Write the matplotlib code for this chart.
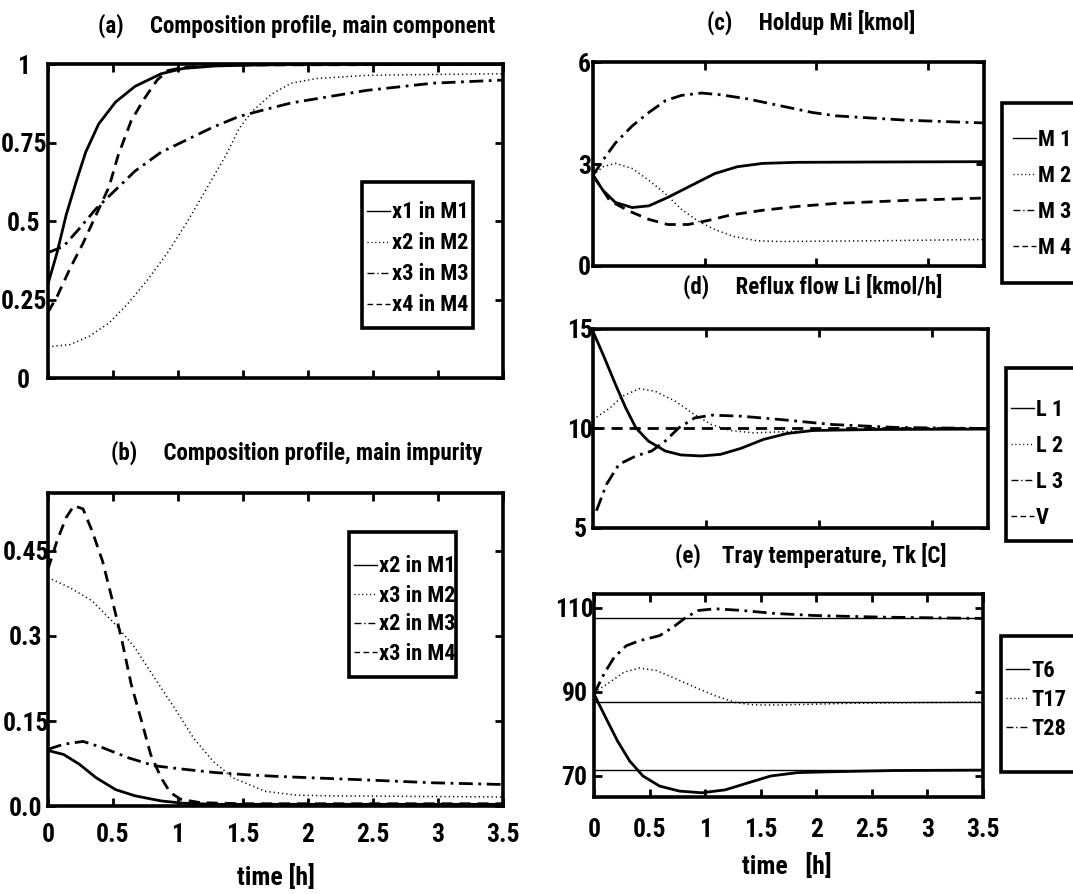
import matplotlib
matplotlib.use('Agg')
import matplotlib.pyplot as plt
from matplotlib import font_manager
from matplotlib.lines import Line2D
from matplotlib.patches import Rectangle

# ---- (a) composition profile, main component ----
t_a1 = [0, 0.07, 0.14, 0.22, 0.29, 0.39, 0.52, 0.67, 0.87, 1.04, 1.29, 1.6, 2.0, 3.5]
x1_m1 = [0.30, 0.40, 0.52, 0.63, 0.72, 0.81, 0.88, 0.93, 0.97, 0.987, 0.995, 0.998, 1.0, 1.0]
t_a2 = [0, 0.17, 0.32, 0.47, 0.62, 0.77, 0.92, 1.07, 1.22, 1.37, 1.47, 1.57, 1.72, 1.87, 2.07, 2.45, 3.0, 3.5]
x2_m2 = [0.10, 0.107, 0.134, 0.176, 0.24, 0.315, 0.40, 0.497, 0.604, 0.711, 0.795, 0.85, 0.905, 0.94, 0.955, 0.965, 0.968, 0.97]
t_a3 = [0, 0.12, 0.24, 0.37, 0.52, 0.67, 0.87, 1.07, 1.27, 1.47, 1.67, 1.87, 2.45, 2.96, 3.5]
x3_m3 = [0.40, 0.42, 0.476, 0.54, 0.60, 0.66, 0.72, 0.76, 0.80, 0.834, 0.856, 0.877, 0.917, 0.94, 0.95]
t_a4 = [0, 0.07, 0.17, 0.27, 0.37, 0.47, 0.54, 0.64, 0.74, 0.84, 0.92, 1.04, 1.3, 3.5]
x4_m4 = [0.21, 0.26, 0.35, 0.43, 0.52, 0.61, 0.71, 0.82, 0.89, 0.95, 0.98, 0.99, 0.998, 1.0]

# ---- (b) composition profile, main impurity ----
t_b1 = [0, 0.12, 0.24, 0.37, 0.52, 0.67, 0.87, 1.04, 1.3, 3.5]
x2_m1 = [0.098, 0.091, 0.074, 0.05, 0.029, 0.018, 0.009, 0.005, 0.003, 0.003]
t_b2 = [0, 0.17, 0.34, 0.52, 0.67, 0.82, 0.97, 1.12, 1.27, 1.42, 1.67, 1.92, 2.17, 3.5]
x3_m2 = [0.403, 0.385, 0.362, 0.32, 0.279, 0.226, 0.174, 0.12, 0.079, 0.05, 0.026, 0.019, 0.018, 0.016]
t_b3 = [0, 0.12, 0.27, 0.42, 0.62, 0.82, 1.04, 1.29, 1.54, 1.79, 2.12, 2.45, 2.96, 3.5]
x2_m3 = [0.10, 0.109, 0.114, 0.103, 0.085, 0.071, 0.065, 0.059, 0.055, 0.052, 0.049, 0.046, 0.041, 0.038]
t_b4 = [0, 0.07, 0.14, 0.2, 0.27, 0.34, 0.42, 0.49, 0.57, 0.64, 0.72, 0.79, 0.87, 0.94, 1.02, 1.17, 1.5, 3.5]
x3_m4 = [0.418, 0.468, 0.509, 0.53, 0.524, 0.485, 0.432, 0.368, 0.291, 0.215, 0.15, 0.091, 0.05, 0.024, 0.012, 0.006, 0.004, 0.004]

# ---- (c) holdup Mi [kmol] ----
t_c1 = [0, 0.09, 0.2, 0.35, 0.5, 0.67, 0.88, 1.09, 1.29, 1.52, 1.82, 2.5, 3.5]
hold_m1 = [2.67, 2.22, 1.87, 1.72, 1.77, 2.02, 2.37, 2.72, 2.92, 3.02, 3.05, 3.06, 3.07]
t_c2 = [0, 0.09, 0.2, 0.35, 0.5, 0.65, 0.79, 0.94, 1.09, 1.26, 1.47, 1.67, 2.5, 3.5]
hold_m2 = [2.67, 2.92, 3.02, 2.87, 2.52, 2.12, 1.67, 1.32, 1.07, 0.87, 0.74, 0.72, 0.74, 0.78]
t_c3 = [0, 0.09, 0.2, 0.35, 0.5, 0.65, 0.79, 0.97, 1.14, 1.38, 1.67, 1.96, 2.17, 2.81, 3.5]
hold_m3 = [2.67, 3.12, 3.62, 4.12, 4.52, 4.87, 5.02, 5.09, 5.04, 4.92, 4.72, 4.52, 4.42, 4.29, 4.21]
t_c4 = [0, 0.15, 0.32, 0.5, 0.67, 0.85, 1.03, 1.23, 1.52, 1.82, 2.17, 2.8, 3.5]
hold_m4 = [2.67, 1.92, 1.62, 1.37, 1.22, 1.22, 1.34, 1.5, 1.64, 1.75, 1.84, 1.93, 2.0]

# ---- (d) reflux flow Li [kmol/h] ----
t_d1 = [0, 0.09, 0.2, 0.29, 0.38, 0.49, 0.64, 0.78, 0.96, 1.13, 1.31, 1.51, 1.72, 1.95, 2.5, 3.5]
flow_l1 = [14.87, 13.7, 12.2, 11.03, 10.03, 9.37, 8.87, 8.67, 8.62, 8.7, 9.0, 9.45, 9.75, 9.9, 9.95, 9.97]
t_d2 = [0, 0.15, 0.26, 0.41, 0.55, 0.73, 0.9, 1.05, 1.22, 1.42, 1.66, 2.2, 3.5]
flow_l2 = [10.45, 11.03, 11.62, 12.0, 11.87, 11.37, 10.7, 10.2, 9.9, 9.78, 9.83, 9.95, 10.0]
t_d3 = [0.03, 0.12, 0.23, 0.38, 0.52, 0.64, 0.76, 0.9, 1.05, 1.31, 1.66, 2.12, 2.7, 3.5]
flow_l3 = [5.87, 7.2, 8.2, 8.62, 8.87, 9.37, 10.03, 10.53, 10.67, 10.62, 10.45, 10.2, 10.05, 10.0]
t_d4 = [0, 3.5]
flow_v = [10.0, 10.0]

# ---- (e) tray temperature Tk [C] ----
t_e1 = [0, 0.09, 0.21, 0.32, 0.44, 0.59, 0.77, 0.97, 1.18, 1.39, 1.59, 1.83, 2.12, 2.7, 3.5]
temp_t6 = [89.5, 84.7, 78.4, 73.6, 70.0, 67.6, 66.4, 66.0, 66.7, 68.4, 70.0, 70.8, 71.0, 71.3, 71.4]
t_e2 = [0, 0.12, 0.27, 0.41, 0.56, 0.74, 0.91, 1.09, 1.27, 1.45, 1.68, 2.3, 3.5]
temp_t17 = [89.9, 91.9, 94.7, 95.7, 95.1, 93.1, 91.1, 89.1, 87.5, 86.9, 86.9, 87.3, 87.6]
t_e3 = [0, 0.09, 0.18, 0.29, 0.41, 0.59, 0.71, 0.83, 0.94, 1.09, 1.33, 1.62, 1.98, 2.6, 3.5]
temp_t28 = [89.5, 94.3, 98.2, 101.0, 102.2, 103.4, 105.4, 107.8, 109.4, 109.8, 109.4, 108.7, 108.2, 107.8, 107.5]
temp_ref = [107.5, 87.6, 71.5]


# a narrow bold face like the original if one is installed, else plain Liberation Sans
def pick_font(names):
    for n in names:
        try:
            font_manager.findfont(font_manager.FontProperties(family=n, weight='bold'),
                                  fallback_to_default=False)
            return n
        except ValueError:
            pass
    return 'Liberation Sans'


FONT = pick_font(['Liberation Sans Narrow', 'Roboto Condensed', 'Noto Sans Condensed',
                  'DejaVu Sans Condensed'])
plt.rcParams['font.family'] = [FONT, 'DejaVu Sans']
plt.rcParams['font.weight'] = 'bold'

W, H = 1073, 894
fig = plt.figure(figsize=(W / 100, H / 100), dpi=100)
renderer = fig.canvas.get_renderer()


def text_box(s, size):
    t = fig.text(0, 0, s, fontsize=size)
    bb = t.get_window_extent(renderer)
    t.remove()
    return bb.width, bb.height


# size the fonts from text widths in the picture (the original glyphs are taller,
# so titles and tick labels get a bit extra)
FS = 10 * 77 / text_box('x1 in M1', 10)[0]
FS_TITLE = 1.06 * 10 * 326 / text_box('Composition profile, main component', 10)[0]
FS_TICK = 1.15 * FS
FS_PX = FS * 100 / 72
ROW_H = text_box('x1 in M1', FS)[1]
plt.rcParams['font.size'] = FS

DASH = (0, (4, 2.5))
DOT = (0, (0.8, 2))
DASHDOT = (0, (5, 2, 1, 2))
styles = [('-', 2.0), (DOT, 1.1), (DASHDOT, 2.0), (DASH, 2.0)]


def fx(px):
    return px / W


def fy(py):
    return 1 - py / H


def setup(ax, ylim, yticks, ylabels, xticks, xlabels, ypad, xpad=10):
    ax.set_xlim(0, 3.5)
    ax.set_ylim(*ylim)
    ax.set_xticks(xticks)
    ax.set_yticks(yticks)
    ax.set_yticklabels(ylabels)
    if xlabels:
        ax.set_xticklabels([('%g' % v) for v in xticks])
    else:
        ax.set_xticklabels([])
    for s in ax.spines.values():
        s.set_linewidth(2.6)
    ax.tick_params(direction='in', length=6, width=2, top=True, right=True, labelsize=FS_TICK)
    ax.tick_params(axis='y', pad=ypad)
    ax.tick_params(axis='x', pad=xpad)
    for lab in ax.get_yticklabels():
        lab.set_ha('center')


def add_legend(labels, box, handle_x, rows_y, pitch, sty):
    # box: left, top, right, bottom in picture pixels
    x0, y0, x1, y1 = box
    fig.add_artist(Rectangle((fx(x0), fy(y1)), fx(x1) - fx(x0), fy(y0) - fy(y1),
                             transform=fig.transFigure, facecolor='white',
                             edgecolor='k', lw=2.6, zorder=4))
    handles = [Line2D([], [], color='k', linestyle=ls, lw=1.0) for ls, _ in sty]
    fig.legend(handles, labels, loc='center left', bbox_to_anchor=(fx(handle_x), fy(rows_y)),
               bbox_transform=fig.transFigure, frameon=False,
               handlelength=23 / FS_PX, handletextpad=2 / FS_PX,
               labelspacing=(pitch - ROW_H) / FS_PX, borderpad=0, borderaxespad=0,
               fontsize=FS)


half = [0, 0.5, 1, 1.5, 2, 2.5, 3, 3.5]

# (a)
ax_a = fig.add_axes([0.0447, 0.577, 0.424, 0.351])
for (tt, vv), (ls, lw) in zip([(t_a1, x1_m1), (t_a2, x2_m2), (t_a3, x3_m3), (t_a4, x4_m4)], styles):
    ax_a.plot(tt, vv, color='k', linestyle=ls, lw=lw)
setup(ax_a, (0, 1), [0, 0.25, 0.5, 0.75, 1], ['0', '0.25', '0.5', '0.75', '1'],
      half, False, 17.5)
add_legend(['x1 in M1', 'x2 in M2', 'x3 in M3', 'x4 in M4'],
           (362, 182, 473, 328), 367, 259, 31, styles)

# (b)
ax_b = fig.add_axes([0.0447, 0.0984, 0.424, 0.350])
for (tt, vv), (ls, lw) in zip([(t_b1, x2_m1), (t_b2, x3_m2), (t_b3, x2_m3), (t_b4, x3_m4)], styles):
    ax_b.plot(tt, vv, color='k', linestyle=ls, lw=lw)
setup(ax_b, (0, 0.552), [0, 0.15, 0.3, 0.45], ['0.0', '0.15', '0.3', '0.45'],
      half, True, 16, 12.5)
add_legend(['x2 in M1', 'x3 in M2', 'x2 in M3', 'x3 in M4'],
           (349, 532, 456, 677), 354, 610, 29, styles)

# (c)
ax_c = fig.add_axes([0.5527, 0.7025, 0.3644, 0.228])
for (tt, vv), (ls, lw) in zip([(t_c1, hold_m1), (t_c2, hold_m2), (t_c3, hold_m3), (t_c4, hold_m4)], styles):
    ax_c.plot(tt, vv, color='k', linestyle=ls, lw=lw)
setup(ax_c, (0, 6), [0, 3, 6], ['0', '3', '6'], [1, 2, 3], False, 6)
add_legend(['M 1', 'M 2', 'M 3', 'M 4'], (1002, 103, 1090, 283), 1013, 194, 36, styles)

# (d)
ax_d = fig.add_axes([0.5527, 0.4094, 0.368, 0.2226])
for (tt, vv), (ls, lw) in zip([(t_d1, flow_l1), (t_d2, flow_l2), (t_d3, flow_l3), (t_d4, flow_v)], styles):
    ax_d.plot(tt, vv, color='k', linestyle=ls, lw=lw)
setup(ax_d, (5, 15), [5, 10, 15], ['5', '10', '15'], [1, 2, 3], False, 9.5)
add_legend(['L 1', 'L 2', 'L 3', 'V'], (1006, 368, 1090, 541), 1011, 464, 36, styles)

# (e)
ax_e = fig.add_axes([0.5536, 0.1085, 0.3625, 0.227])
for r in temp_ref:
    ax_e.axhline(r, color='k', lw=1.0)
for (tt, vv), (ls, lw) in zip([(t_e1, temp_t6), (t_e2, temp_t17), (t_e3, temp_t28)], styles[:3]):
    ax_e.plot(tt, vv, color='k', linestyle=ls, lw=lw)
setup(ax_e, (65, 113.3), [70, 90, 110], ['70', '90', '110'], half, True, 14, 15)
add_legend(['T6', 'T17', 'T28'], (1001, 636, 1090, 772), 1006, 700, 29, styles[:3])

# titles and axis labels
fig.text(fx(297), fy(26), '(a)     Composition profile, main component', ha='center', va='center', fontsize=FS_TITLE)
fig.text(fx(297), fy(453), '(b)     Composition profile, main impurity', ha='center', va='center', fontsize=FS_TITLE)
fig.text(fx(811), fy(22), '(c)     Holdup Mi [kmol]', ha='center', va='center', fontsize=FS_TITLE)
fig.text(fx(813), fy(286), '(d)     Reflux flow Li [kmol/h]', ha='center', va='center', fontsize=FS_TITLE)
fig.text(fx(811), fy(555), '(e)    Tray temperature, Tk [C]', ha='center', va='center', fontsize=FS_TITLE)
fig.text(fx(276), fy(877), 'time [h]', ha='center', va='center', fontsize=FS_TICK)
fig.text(fx(787), fy(866), 'time   [h]', ha='center', va='center', fontsize=FS_TICK)

fig.savefig('out.png', dpi=100)
